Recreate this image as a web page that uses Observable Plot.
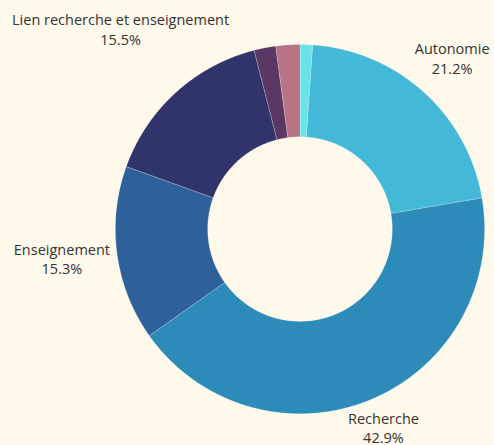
<!DOCTYPE html>
<html>
<head>
<meta charset="utf-8">
<script src="https://cdn.jsdelivr.net/npm/d3@7"></script>
<script src="https://cdn.jsdelivr.net/npm/@observablehq/plot@0.6"></script>
<style>
  html, body { margin: 0; padding: 0; background: #fef9ea; overflow: hidden; }
  #chart svg { display: block; }
</style>
</head>
<body>
<div id="chart"></div>
<script>
// ---- data (clockwise from 12 o'clock) ----
const categories = ["Autre (1)", "Autonomie", "Recherche", "Enseignement", "Lien recherche et enseignement", "Autre (2)", "Autre (3)"];
const values = [1.1, 21.2, 42.9, 15.3, 15.5, 1.9, 2.1];
const colors = ["#6be2e8", "#43b8d7", "#2d8bba", "#2e6199", "#2f346b", "#5b3763", "#b87484"];
const labelled = [false, true, true, true, true, false, false];

// ---- layout ----
const W = 494, H = 445;
const cx = 299.5, cy = 228.6, R = 184.6;
const inner = 0.5;          // inner radius as fraction of outer
const fontSize = 14.5, lineHeight = 1.34;
const font = `${fontSize}px "Open Sans"`;

const total = d3.sum(values);
const pie = [];
let acc = 0;
values.forEach((v, i) => {
  const a0 = acc / total * 2 * Math.PI;
  acc += v;
  const a1 = acc / total * 2 * Math.PI;
  pie.push({cat: categories[i], value: v, a0, a1, i});
});

// polygon points for each annular sector (unit radius space)
const pts = [];
const step = Math.PI / 720;
for (const s of pie) {
  const n = Math.max(2, Math.ceil((s.a1 - s.a0) / step));
  const ring = [];
  for (let k = 0; k <= n; k++) {
    const a = s.a0 + (s.a1 - s.a0) * k / n;
    ring.push([Math.sin(a), Math.cos(a)]);
  }
  for (let k = n; k >= 0; k--) {
    const a = s.a0 + (s.a1 - s.a0) * k / n;
    ring.push([inner * Math.sin(a), inner * Math.cos(a)]);
  }
  ring.push(ring[0]);
  ring.forEach(([x, y]) => pts.push({cat: s.cat, x, y}));
}

// labels: centred on the mid-angle, pushed out by the text box extent
const ctx = document.createElement("canvas").getContext("2d");
ctx.font = font;
const labels = [];
for (const s of pie) {
  if (!labelled[s.i]) continue;
  const name = s.cat;
  const pct = s.value.toFixed(1) + "%";
  const w = Math.max(ctx.measureText(name).width, ctx.measureText(pct).width);
  const hh = 15;
  const a = (s.a0 + s.a1) / 2;
  const sa = Math.sin(a), ca = Math.cos(a);
  let dist = R + 6 + Math.abs(sa) * w / 2 + Math.abs(ca) * hh;
  const minCenterY = 12 + fontSize * lineHeight;   // keep block inside the top edge
  if (ca > 0 && cy - dist * ca < minCenterY) dist = (cy - minCenterY) / ca;
  labels.push({x: dist * sa / R, y: dist * ca / R, text: name + "\n" + pct});
}

const chart = Plot.plot({
  width: W,
  height: H,
  margin: 0,
  style: {background: "#fef9ea", fontFamily: '"Open Sans", sans-serif'},
  x: {domain: [-cx / R, (W - cx) / R], range: [0, W], axis: null},
  y: {domain: [-(H - cy) / R, cy / R], range: [H, 0], axis: null},
  color: {domain: categories, range: colors},
  marks: [
    Plot.line(pts, {x: "x", y: "y", z: "cat", fill: "cat", stroke: "#ffffff", strokeWidth: 0.6, strokeOpacity: 0.35}),
    Plot.text(labels, {x: "x", y: "y", dy: -3, text: "text", fontSize, lineHeight, fill: "#333333", fontFamily: '"Open Sans"'})
  ]
});
document.getElementById("chart").appendChild(chart);
</script>
</body>
</html>
